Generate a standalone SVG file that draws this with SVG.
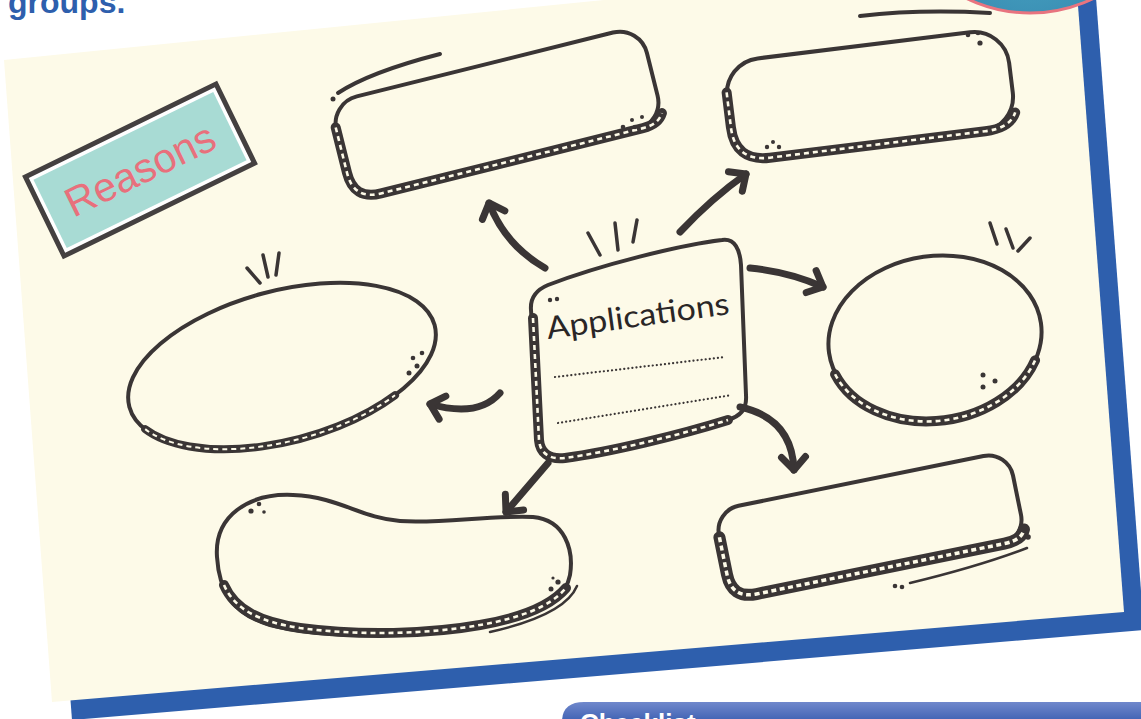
<svg xmlns="http://www.w3.org/2000/svg" width="1141" height="719" viewBox="0 0 1141 719">
<defs>
<style>
.ol{fill:none;stroke:#3a3535;stroke-width:4;stroke-linecap:round;stroke-linejoin:round}
.band{fill:none;stroke:#3a3535;stroke-width:10;stroke-linecap:round;stroke-linejoin:round}
.dash{fill:none;stroke:#fdfae8;stroke-width:2.6;stroke-dasharray:5 4}
.arw{fill:none;stroke:#3a3535;stroke-width:7;stroke-linecap:round;stroke-linejoin:round}
.tick{fill:none;stroke:#3a3535;stroke-width:3.5;stroke-linecap:round}
.dot{fill:#3a3535}
.dl{fill:none;stroke:#3a3535;stroke-width:2.2;stroke-linecap:round;stroke-dasharray:0.1 4}
</style>
<marker id="ah" markerUnits="userSpaceOnUse" markerWidth="40" markerHeight="40" viewBox="-20 -20 40 40" refX="0" refY="0" orient="auto" overflow="visible">
<path d="M -13,-12 L 0,0 L -13,12" fill="none" stroke="#3a3535" stroke-width="7" stroke-linecap="round" stroke-linejoin="round"/>
</marker>
<linearGradient id="tab" x1="0" y1="0" x2="0" y2="1">
<stop offset="0" stop-color="#7088cc"/>
<stop offset="1" stop-color="#3d60b2"/>
</linearGradient>
<radialGradient id="badge" cx="0.5" cy="0.75" r="0.6">
<stop offset="0" stop-color="#4aa6c4"/>
<stop offset="1" stop-color="#2a77a3"/>
</radialGradient>
</defs>
<rect width="1141" height="719" fill="#ffffff"/>
<g id="paper">
<polygon points="24,78 1094,-29 1144,630 72,720" fill="#2e5fad"/>
<polygon points="4,60 1074,-47 1124,612 52,702" fill="#fdfae8"/>
</g>
<g id="badge-circle">
<circle cx="1030" cy="-132" r="145" fill="url(#badge)" stroke="#e8747f" stroke-width="3"/>
</g>
<text x="8" y="13" font-family="Liberation Sans, Arial, sans-serif" font-weight="bold" font-size="32" fill="#2e5fad">groups.</text>
<g id="checklist-tab">
<path d="M 562,722 Q 562,702 584,702 L 1141,702 L 1141,722 Z" fill="url(#tab)"/>
<text x="580" y="732" font-family="Liberation Sans, Arial, sans-serif" font-weight="bold" font-size="26" fill="#ffffff">Checklist</text>
</g>
<g id="reasons-label" transform="translate(140,170) rotate(-26)">
<rect x="-106" y="-44" width="212" height="88" fill="#ffffff" stroke="#444040" stroke-width="5"/>
<rect x="-100" y="-38" width="200" height="76" fill="#a8dbd4"/>
<text x="0" y="14" text-anchor="middle" font-family="Liberation Sans, Arial, sans-serif" font-size="41" fill="#e8707c">Reasons</text>
</g>
<g id="connectors">
<path class="arw" d="M 545,268 Q 505,245 489,203" marker-end="url(#ah)"/>
<path class="arw" d="M 680,232 Q 712,198 746,174" marker-end="url(#ah)"/>
<path class="arw" d="M 750,268 Q 790,272 823,287" marker-end="url(#ah)"/>
<path class="arw" d="M 500,393 Q 478,418 430,404" marker-end="url(#ah)"/>
<path class="arw" d="M 548,463 L 506,512" marker-end="url(#ah)"/>
<path class="arw" d="M 740,407 Q 792,418 794,470" marker-end="url(#ah)"/>
</g>
<g id="node-top-middle">
<g transform="translate(497,113) rotate(-14)">
<rect class="ol" x="-160" y="-50" width="320" height="100" rx="28" fill="#fdfae8"/>
<path class="band" d="M -160,-25 L -160,22 Q -160,50 -132,50 L 138,50 Q 154,50 160,40"/>
<path class="dash" d="M -160,-25 L -160,22 Q -160,50 -132,50 L 138,50 Q 154,50 160,40"/>
</g>
<path class="ol" d="M 338,93 Q 370,72 440,54"/>
<circle class="dot" cx="333" cy="99" r="2.5"/>
<circle class="dot" cx="623" cy="127" r="2.3"/>
<circle class="dot" cx="632" cy="120" r="2"/>
<circle class="dot" cx="635" cy="127" r="2.3"/>
<circle class="dot" cx="642" cy="117" r="2"/>
</g>
<g id="node-top-right">
<g transform="translate(870,95) rotate(-7)">
<rect class="ol" x="-142" y="-50" width="284" height="100" rx="35" fill="#fdfae8"/>
<path class="band" d="M -142,-20 L -142,15 Q -142,50 -107,50 L 110,50 Q 135,50 142,35"/>
<path class="dash" d="M -142,-20 L -142,15 Q -142,50 -107,50 L 110,50 Q 135,50 142,35"/>
</g>
<path class="ol" d="M 860,16 Q 920,9 990,13"/>
<circle class="dot" cx="968" cy="35" r="2.3"/>
<circle class="dot" cx="978" cy="33" r="2.3"/>
<circle class="dot" cx="980" cy="43" r="2.6"/>
<circle class="dot" cx="767" cy="147" r="2.2"/>
<circle class="dot" cx="773" cy="142" r="2"/>
<circle class="dot" cx="779" cy="147" r="2.2"/>
</g>
<g id="node-left-ellipse">
<g transform="translate(282,366) rotate(-15)">
<ellipse class="ol" cx="0" cy="0" rx="158" ry="75" fill="#fdfae8"/>
<path class="band" style="stroke-width:8" d="M -148.5,25.6 A 158 75 0 0 0 101.6,57.5"/>
<path class="dash" style="stroke-width:2" d="M -148.5,25.6 A 158 75 0 0 0 101.6,57.5"/>
</g>
<line class="tick" x1="247" y1="268" x2="260" y2="283"/>
<line class="tick" x1="263" y1="255" x2="268" y2="277"/>
<line class="tick" x1="279" y1="253" x2="276" y2="275"/>
<circle class="dot" cx="413" cy="358" r="2.3"/>
<circle class="dot" cx="422" cy="353" r="2.3"/>
<circle class="dot" cx="417" cy="366" r="2.5"/>
<circle class="dot" cx="409" cy="373" r="2.5"/>
</g>
<g id="node-right-circle">
<g transform="translate(935,338) rotate(-8)">
<ellipse class="ol" cx="0" cy="0" rx="107" ry="82" fill="#fdfae8"/>
<path class="band" d="M -104,22 A 107 82 0 0 0 96,36"/>
<path class="dash" d="M -104,22 A 107 82 0 0 0 96,36"/>
</g>
<line class="tick" x1="990" y1="223" x2="997" y2="244"/>
<line class="tick" x1="1006" y1="229" x2="1013" y2="248"/>
<line class="tick" x1="1030" y1="238" x2="1018" y2="251"/>
<circle class="dot" cx="983" cy="375" r="2.5"/>
<circle class="dot" cx="995" cy="381" r="2.5"/>
<circle class="dot" cx="983" cy="387" r="2.5"/>
</g>
<g id="node-bottom-left">
<path class="ol" fill="#fdfae8" d="M 217,557 C 214,515 250,493 293,495 C 340,497 360,518 400,521 C 440,524 490,515 533,517 C 565,520 574,550 570,575 C 565,605 520,620 470,628 C 420,636 330,640 270,625 C 232,614 219,590 217,557 Z"/>
<path class="band" d="M 224,585 C 235,610 260,622 300,628 C 360,636 430,634 480,625 C 520,618 550,607 566,588"/>
<path class="dash" d="M 224,585 C 235,610 260,622 300,628 C 360,636 430,634 480,625 C 520,618 550,607 566,588"/>
<path class="ol" style="stroke-width:2.5" d="M 577,586 Q 565,615 490,632"/>
<circle class="dot" cx="251" cy="511" r="2.6"/>
<circle class="dot" cx="259" cy="504" r="2.3"/>
<circle class="dot" cx="264" cy="512" r="1.8"/>
<circle class="dot" cx="551" cy="589" r="2.5"/>
<circle class="dot" cx="558" cy="582" r="2.6"/>
<circle class="dot" cx="553" cy="578" r="1.6"/>
</g>
<g id="node-bottom-right">
<g transform="translate(870,525) rotate(-11.5)">
<rect class="ol" x="-150" y="-45" width="300" height="90" rx="25" fill="#fdfae8"/>
<path class="band" style="stroke-width:12" d="M -150,-18 L -150,20 Q -150,45 -125,45 L 128,45 Q 146,45 150,35"/>
<path class="dash" style="stroke-width:3.5;stroke-dasharray:5 3.5" d="M -150,-18 L -150,20 Q -150,45 -125,45 L 128,45 Q 146,45 150,35"/>
</g>
<path class="ol" style="stroke-width:2.5" d="M 1027,548 Q 980,566 910,583"/>
<circle class="dot" cx="895" cy="586" r="2.3"/>
<circle class="dot" cx="902" cy="587" r="2.3"/>
<circle class="dot" cx="1028" cy="537" r="2.8"/>
</g>
<g id="node-center">
<path class="ol" fill="#fdfae8" d="M 548,285 C 600,265 680,245 722,240 C 735,238 740,250 741,265 L 746,395 C 747,410 740,416 728,420 C 680,435 610,452 565,458 C 548,460 540,452 539,440 L 531,310 C 530,298 536,290 548,285 Z"/>
<path class="band" d="M 533,318 L 539,440 C 540,452 548,460 565,458 C 610,452 680,435 728,420"/>
<path class="dash" d="M 533,318 L 539,440 C 540,452 548,460 565,458 C 610,452 680,435 728,420"/>
<line class="tick" x1="588" y1="233" x2="600" y2="255"/>
<line class="tick" x1="615" y1="223" x2="618" y2="250"/>
<line class="tick" x1="637" y1="220" x2="633" y2="242"/>
<circle class="dot" cx="550" cy="300" r="2.2"/>
<circle class="dot" cx="557" cy="299" r="2.2"/>
<text transform="translate(548,339) rotate(-7.8)" font-family="Lato, 'Liberation Sans', sans-serif" font-size="31" fill="#2a2626" textLength="184" lengthAdjust="spacingAndGlyphs">Applications</text>
<path class="dl" d="M 555,377 L 725,357"/>
<path class="dl" d="M 558,423 L 732,395"/>
</g>
</svg>
